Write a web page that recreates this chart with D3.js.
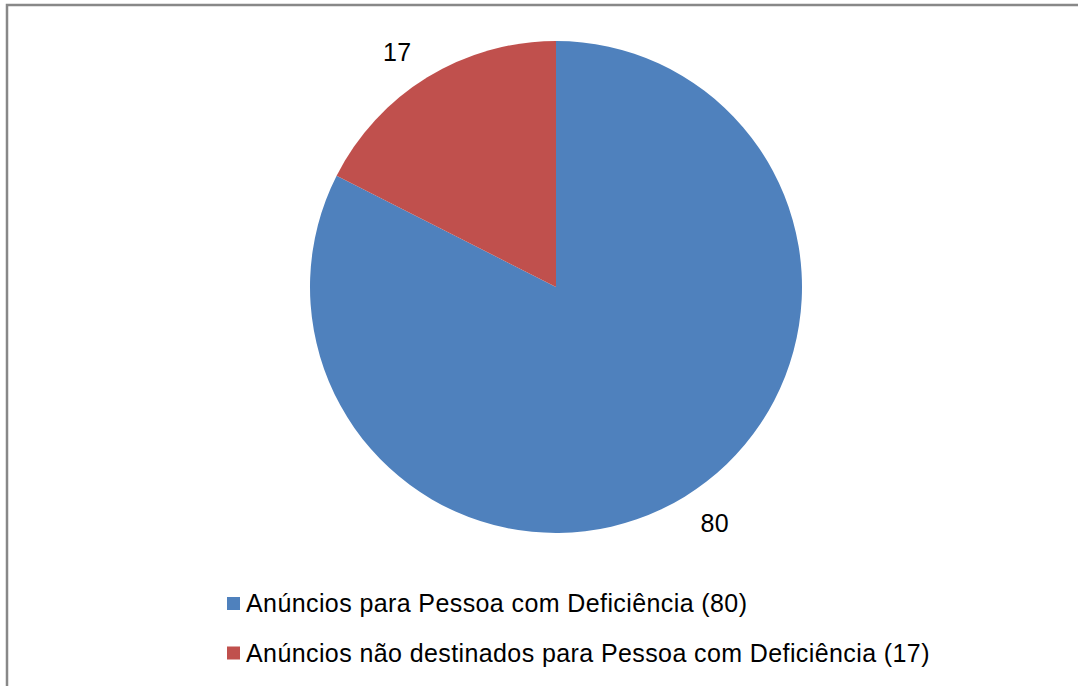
<!DOCTYPE html>
<html>
<head>
<meta charset="utf-8">
<script src="https://cdn.jsdelivr.net/npm/d3@7"></script>
<style>
  html, body { margin: 0; padding: 0; background: #fff; }
  svg { display: block; }
  text { font-family: "Liberation Sans", Arial, sans-serif; fill: #000; }
</style>
</head>
<body>
<svg id="chart" width="1078" height="686"></svg>
<script>
// Announcement counts
const categories = [
  "Anúncios para Pessoa com Deficiência",
  "Anúncios não destinados para Pessoa com Deficiência"
];
const values = [80, 17];
const colors = ["#4F81BD", "#C0504D"];

const W = 1078, H = 686;
const svg = d3.select("#chart");

// Chart frame (runs past the right and bottom edges)
svg.append("rect")
  .attr("x", 7).attr("y", 5)
  .attr("width", W + 20).attr("height", H + 20)
  .attr("fill", "#fff")
  .attr("stroke", "#888").attr("stroke-width", 2.5);

const cx = 556, cy = 287, r = 246;

const pie = d3.pie().sort(null).value(d => d.value);
const arcs = pie(values.map((v, i) => ({ value: v, name: categories[i], color: colors[i] })));
const arc = d3.arc().innerRadius(0).outerRadius(r);

const g = svg.append("g").attr("transform", `translate(${cx},${cy})`);

g.selectAll("path.slice")
  .data(arcs)
  .join("path")
  .attr("class", "slice")
  .attr("d", arc)
  .attr("fill", d => d.data.color);

// Value labels outside each slice: the label's inner corner sits on a ring
const labelR = 268.5;
const fontSize = 25;
const spacing = 0.4;
g.selectAll("text.val")
  .data(arcs)
  .join("text")
  .attr("class", "val")
  .style("font-size", fontSize + "px")
  .style("letter-spacing", spacing + "px")
  .each(function(d) {
    const a = (d.startAngle + d.endAngle) / 2 - Math.PI / 180;
    const x = labelR * Math.sin(a);
    const y = -labelR * Math.cos(a);
    const right = Math.sin(a) >= 0;
    const below = Math.cos(a) < 0;
    d3.select(this)
      .attr("x", x)
      .attr("y", below ? y + fontSize * 0.73 : y)
      .attr("text-anchor", right ? "start" : "end")
      .text(d.data.value);
  });

// Legend
const legend = svg.append("g").attr("transform", "translate(227,597)");
const rowH = 49.5;
const rows = legend.selectAll("g")
  .data(arcs)
  .join("g")
  .attr("transform", (d, i) => `translate(0,${i * rowH})`);

rows.append("rect")
  .attr("x", 0).attr("y", 0)
  .attr("width", 13).attr("height", 13)
  .attr("fill", d => d.data.color);

rows.append("text")
  .attr("x", 19).attr("y", 15)
  .style("font-size", fontSize + "px")
  .style("letter-spacing", spacing + "px")
  .text(d => `${d.data.name} (${d.data.value})`);
</script>
</body>
</html>
